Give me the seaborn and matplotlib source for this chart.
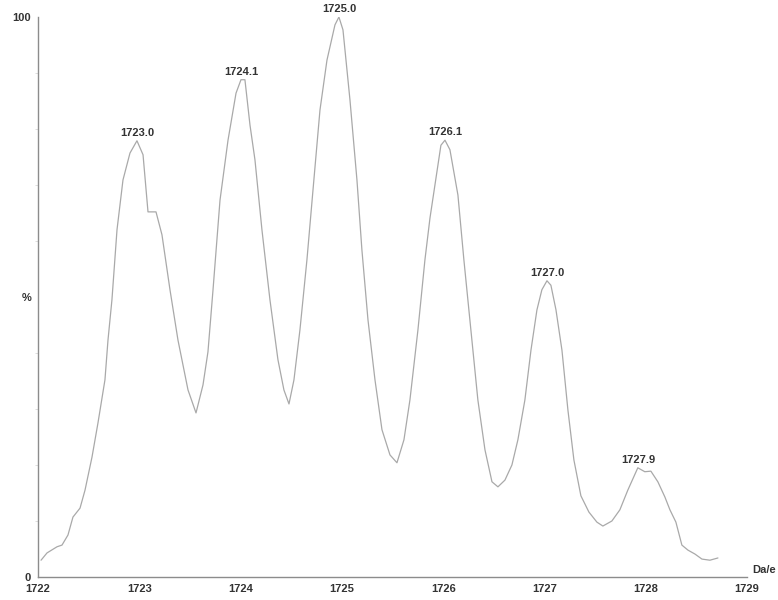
import matplotlib
matplotlib.use("Agg")
import matplotlib.pyplot as plt
import seaborn as sns
import pandas as pd

# mass spectrum trace (m/z, relative intensity %)
mz = [1722.030, 1722.089, 1722.188, 1722.237, 1722.296, 1722.345, 1722.415, 1722.464,
      1722.533, 1722.592, 1722.661, 1722.691, 1722.730, 1722.780, 1722.839, 1722.908,
      1722.977, 1723.037, 1723.086, 1723.165, 1723.224, 1723.303, 1723.382, 1723.481,
      1723.560, 1723.629, 1723.678, 1723.728, 1723.797, 1723.876, 1723.955, 1724.004,
      1724.043, 1724.093, 1724.142, 1724.211, 1724.290, 1724.369, 1724.428, 1724.478,
      1724.527, 1724.586, 1724.655, 1724.715, 1724.784, 1724.853, 1724.932, 1724.971,
      1725.011, 1725.080, 1725.149, 1725.198, 1725.258, 1725.327, 1725.396, 1725.475,
      1725.544, 1725.613, 1725.672, 1725.751, 1725.820, 1725.870, 1725.919, 1725.978,
      1726.018, 1726.067, 1726.146, 1726.205, 1726.274, 1726.343, 1726.413, 1726.482,
      1726.541, 1726.610, 1726.679, 1726.738, 1726.807, 1726.867, 1726.926, 1726.975,
      1727.025, 1727.064, 1727.114, 1727.173, 1727.232, 1727.291, 1727.360, 1727.439,
      1727.518, 1727.577, 1727.666, 1727.745, 1727.823, 1727.922, 1727.991, 1728.051,
      1728.120, 1728.189, 1728.239, 1728.298, 1728.357, 1728.417, 1728.486, 1728.555,
      1728.634, 1728.713]
intensity = [3.0, 4.3, 5.4, 5.7, 7.5, 10.7, 12.3, 15.5,
             21.4, 27.5, 35.2, 42.3, 49.5, 62.0, 70.9, 75.7,
             77.9, 75.4, 65.2, 65.2, 61.1, 51.3, 42.3, 33.4,
             29.3, 34.3, 40.2, 51.3, 67.3, 78.0, 86.4, 88.8,
             88.8, 80.7, 74.5, 62.0, 49.5, 38.8, 33.4, 30.9,
             35.2, 44.1, 56.6, 69.1, 83.4, 92.3, 98.6, 100.0,
             97.7, 85.2, 70.9, 58.4, 45.9, 35.2, 26.3, 21.8,
             20.4, 24.5, 31.6, 44.1, 56.6, 64.1, 70.0, 77.1,
             78.0, 76.3, 68.2, 56.6, 44.1, 31.6, 22.7, 17.0,
             16.1, 17.3, 20.0, 24.5, 31.6, 40.5, 47.7, 51.3,
             52.9, 52.1, 47.7, 40.5, 29.8, 20.9, 14.5, 11.6,
             9.8, 9.1, 10.0, 12.0, 15.5, 19.5, 18.8, 18.9,
             17.0, 14.3, 12.0, 9.8, 5.7, 4.8, 4.1, 3.2,
             3.0, 3.4]

# peak labels
peak_labels = ["1723.0", "1724.1", "1725.0", "1726.1", "1727.0", "1727.9"]
peak_x = [1722.977, 1724.004, 1724.971, 1726.018, 1727.025, 1727.922]
peak_y = [77.9, 88.8, 100.0, 78.0, 52.9, 19.5]

x_ticks = [1722, 1723, 1724, 1725, 1726, 1727, 1728, 1729]

df = pd.DataFrame({"mz": mz, "intensity": intensity})

sns.set_style("white")
plt.rcParams["font.family"] = ["Liberation Sans", "DejaVu Sans"]

fig = plt.figure(figsize=(7.78, 6.0), dpi=100)
ax = fig.add_axes([38 / 778, 23 / 600, 709 / 778, 560 / 600])

sns.lineplot(data=df, x="mz", y="intensity", ax=ax, color="#a9a9a9",
             linewidth=0.9, estimator=None, sort=False)

for lab, px, py in zip(peak_labels, peak_x, peak_y):
    ax.annotate(lab, (px, py), xytext=(0, 2), textcoords="offset points",
                ha="center", va="bottom", fontsize=8, color="#333333",
                fontweight="bold", annotation_clip=False)

ax.set_xlim(1722, 1729)
ax.set_ylim(0, 100)
ax.set_xticks(x_ticks)
ax.set_xticklabels([str(t) for t in x_ticks])
ax.set_yticks([0, 50, 100])
ax.set_yticklabels(["0", "%", "100"])
ax.set_yticks(range(10, 100, 10), minor=True)
ax.set_xlabel("")
ax.set_ylabel("")

for side in ["top", "right"]:
    ax.spines[side].set_visible(False)
for side in ["left", "bottom"]:
    ax.spines[side].set_color("#8c8c8c")
    ax.spines[side].set_linewidth(1.0)

ax.tick_params(axis="both", which="major", direction="out", length=4, width=0.8,
               color="#8c8c8c", labelsize=8, labelcolor="#333333", pad=1)
ax.tick_params(axis="y", which="minor", direction="out", length=2, width=0.5,
               color="#d0d0d0", left=True)
for lbl in ax.get_xticklabels() + ax.get_yticklabels():
    lbl.set_fontweight("bold")

ax.text(1.008, 0.012, "Da/e", transform=ax.transAxes, ha="left", va="center",
        fontsize=8, fontweight="bold", color="#333333")

fig.savefig("out.png", dpi=100)
